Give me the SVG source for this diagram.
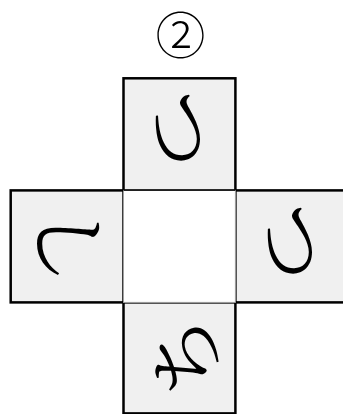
<svg xmlns="http://www.w3.org/2000/svg" width="343" height="414" viewBox="0 0 343 414">
<style>
.box{fill:#f0f0f0;stroke:#000;stroke-width:2.5}
.ctr{fill:#fff;stroke:#a0a0a0;stroke-width:1}
.ch{font-family:"Noto Sans CJK JP",sans-serif;font-family:"Noto Serif CJK JP",serif;font-size:78px;text-anchor:middle;dominant-baseline:central;fill:#000}
.num{font-family:"Noto Sans CJK JP",sans-serif;font-weight:300;font-size:50px;text-anchor:middle;dominant-baseline:central;fill:#000}
</style>
<rect width="343" height="414" fill="#fff"/>
<g id="title"><text class="num" x="180.5" y="32">②</text></g>
<g id="top"><rect class="box" x="123.5" y="78.3" width="111.9" height="112.1"/><text class="ch" x="185" y="129" transform="rotate(90 185 129)">つ</text></g>
<g id="left"><rect class="box" x="10.7" y="190.4" width="112.8" height="112"/><text class="ch" x="74" y="245" transform="rotate(90 74 245)">し</text></g>
<g id="right"><rect class="box" x="235.4" y="190.4" width="112" height="112"/><text class="ch" x="296.5" y="242" transform="rotate(90 296.5 242)">つ</text></g>
<g id="bottom"><rect class="box" x="123.5" y="302.4" width="111.9" height="111"/><text class="ch" x="180" y="357" transform="rotate(-100 180 357)">ち</text></g>
<g id="center"><rect class="ctr" x="123.5" y="190.4" width="111.9" height="112"/><line x1="123.5" y1="190.4" x2="235.4" y2="190.4" stroke="#111" stroke-width="1"/></g>
</svg>
